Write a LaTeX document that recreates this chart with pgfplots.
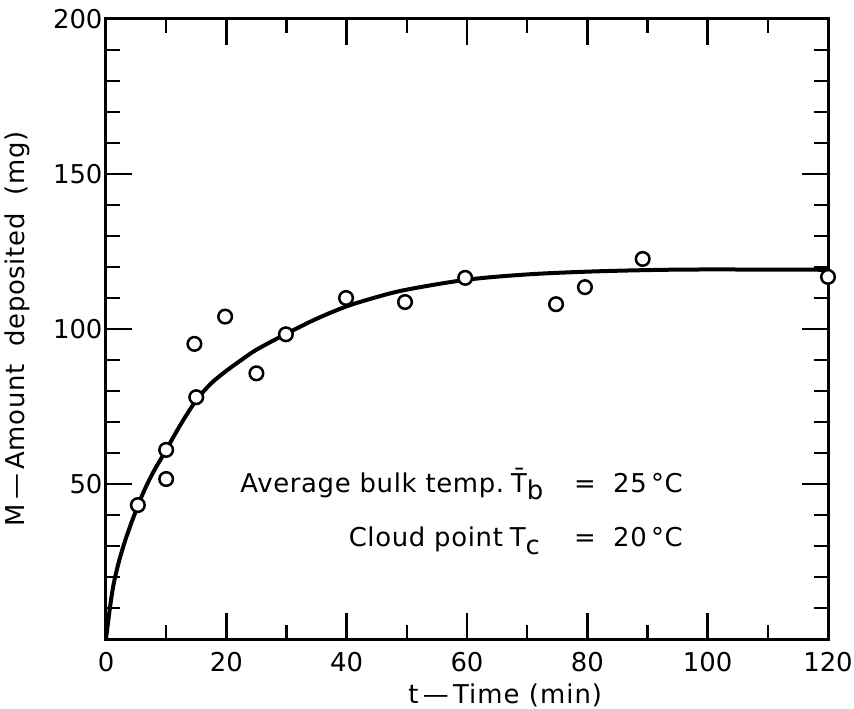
\documentclass[border=0pt]{standalone}
\usepackage{pgfplots}
\pgfplotsset{compat=1.18}
\usepackage{fontspec}
\setmainfont{DejaVu Sans}
\begin{document}
\begin{tikzpicture}
\begin{axis}[
  scale only axis, width=722bp, height=620bp,
  xmin=0, xmax=120, ymin=0, ymax=200,
  xtick={0,20,...,120},
  ytick={50,100,150,200},
  minor xtick={10,30,50,70,90,110},
  minor ytick={10,20,30,40,60,70,80,90,110,120,130,140,160,170,180,190},
  tick align=inside,
  major tick length=26bp, minor tick length=14bp,
  every tick/.style={black, line width=2.4bp},
  axis line style={line width=3bp},
  clip=false,
  /pgf/number format/assume math mode=true,
  ticklabel style={font=\fontsize{26}{30}\selectfont},
  xticklabel style={yshift=-10bp},
  ylabel={M\,—\,Amount\hspace{0.7em}deposited\hspace{0.7em}(mg)},
  ylabel style={font=\fontsize{26}{30}\selectfont\addfontfeatures{LetterSpace=2.5},
    at={(axis description cs:-0.1,0.5)}, anchor=south},
  xlabel={t\,—\,Time (min)},
  xlabel style={font=\fontsize{26}{30}\selectfont\addfontfeatures{LetterSpace=4},
    at={(axis description cs:0.553,-0.066)}, anchor=north},
]
\addplot[black, line width=4bp, smooth, tension=0.55] coordinates {
(0,0) (1.2,17) (2.9,30) (5.4,43.5) (7.5,52.5) (10,61) (12.5,69.5) (15,77)
(17.5,82.5) (20,86.5) (22.5,90) (25,93.3) (30,98.5) (35,103.3) (40,107.3)
(45,110.3) (50,112.7) (60,115.9) (70,117.6) (80,118.5) (90,119) (100,119.2)
(120,119.1)
};
\addplot[only marks, mark=*, mark size=6.8bp, mark options={draw=black, fill=white, line width=2.5bp}] coordinates {
(5.3,43.2) (10,61) (10,51.6) (14.7,95.2) (15,78) (19.8,104) (25,85.7)
(29.9,98.3) (39.9,110) (49.7,108.7) (59.7,116.5) (74.8,108) (79.6,113.5)
(89.2,122.6) (120,116.8)
};
\begin{scope}[every node/.style={inner sep=0pt, font=\fontsize{26}{30}\selectfont\addfontfeatures{LetterSpace=2.5}}]
\node[anchor=base east] at (axis cs:66.2,47.4) {Average bulk temp.};
\node[anchor=base west] at (axis cs:67.3,47.4) {\={T}\raisebox{-0.55ex}{b}};
\node[anchor=base] at (axis cs:79.6,47.4) {=};
\node[anchor=base east] at (axis cs:95.9,47.4) {25\,°C};
\node[anchor=base east] at (axis cs:66.0,29.7) {Cloud point};
\node[anchor=base west] at (axis cs:67.1,29.7) {T\raisebox{-0.55ex}{c}};
\node[anchor=base] at (axis cs:79.6,29.7) {=};
\node[anchor=base east] at (axis cs:95.9,29.7) {20\,°C};
\end{scope}
\coordinate (bl) at (rel axis cs:0,0);
\coordinate (tr) at (rel axis cs:1,1);
\end{axis}
\pgfresetboundingbox
\path[use as bounding box] ([shift={(-106bp,-70bp)}]bl) rectangle ([shift={(26bp,19bp)}]tr);
\end{tikzpicture}
\end{document}
